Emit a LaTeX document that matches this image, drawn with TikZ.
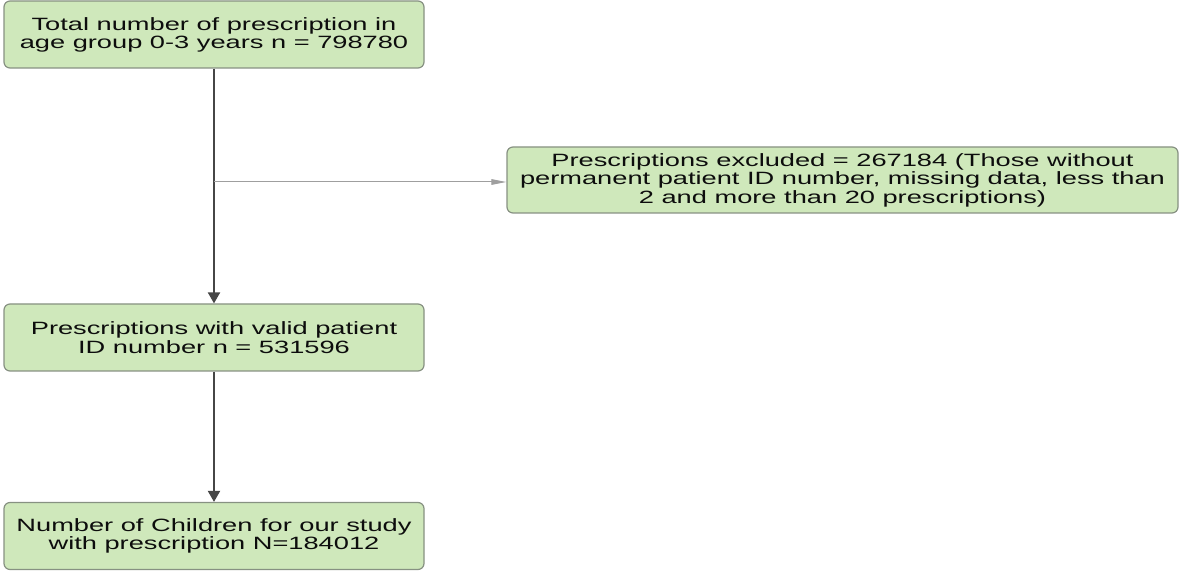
\documentclass[tikz,border=0pt]{standalone}
\usepackage{fontspec}
\newfontfamily\chartfont{Liberation Sans}[FakeStretch=1.53]
\usetikzlibrary{arrows.meta}
\definecolor{boxgreen}{RGB}{207,232,187}
\definecolor{boxline}{RGB}{135,145,130}
\definecolor{flowline}{RGB}{70,70,70}

\begin{document}
\begin{tikzpicture}[x=0.5pt, y=-0.5pt,
    flowbox/.style={draw=boxline, fill=boxgreen, rounded corners=3pt, line width=0.6pt,
        align=center, inner sep=0pt, text=black!95, font=\chartfont\fontsize{8.9}{8}\selectfont},
    mainarrow/.style={draw=flowline, line width=1pt, -{Triangle[length=5.5pt, width=6pt]}},
    sidearrow/.style={draw=gray!75, line width=0.5pt, -{Triangle[length=7.5pt, width=2.8pt]}}]
    \useasboundingbox (0,0) rectangle (1180,572);

    % Start box
    \node[flowbox, minimum width=210pt, minimum height=33.5pt] (total) at (214,34.5)
        {Total number of prescription in\\age group 0-3 years n = 798780};

    % Excluded box
    \node[flowbox, minimum width=335.5pt, minimum height=33pt] (excluded) at (842.5,180)
        {Prescriptions excluded = 267184 (Those without\\permanent patient ID number, missing data, less than\\2 and more than 20 prescriptions)};

    % Valid ID box
    \node[flowbox, minimum width=210pt, minimum height=33.5pt] (valid) at (214,337.5)
        {Prescriptions with valid patient\\ID number n = 531596};

    % Final box
    \node[flowbox, minimum width=210pt, minimum height=33.5pt] (children) at (214,536)
        {Number of Children for our study\\with prescription N=184012};

    % Main flow
    \draw[mainarrow] (total.south) -- (valid.north);
    \draw[mainarrow] (valid.south) -- (children.north);

    % Side branch
    \coordinate (split) at ([yshift=-1pt]total.south |- excluded.west);
    \draw[sidearrow] (split) -- (split -| excluded.west);

\end{tikzpicture}
\end{document}
